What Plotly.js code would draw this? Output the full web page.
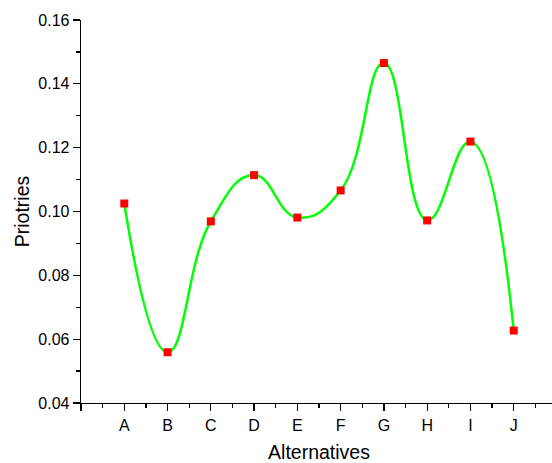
<!DOCTYPE html>
<html>
<head>
<meta charset="utf-8">
<script src="https://cdn.plot.ly/plotly-3.0.1.min.js"></script>
<style>html,body{margin:0;padding:0;overflow:hidden;background:#fff;}</style>
</head>
<body>
<div id="chart" style="width:560px;height:463px;"></div>
<script>
const categories = ['A','B','C','D','E','F','G','H','I','J'];
const priorities = [0.1025, 0.0559, 0.0969, 0.1114, 0.0981, 0.1066, 0.1465, 0.0972, 0.1219, 0.0627];

const xIdx = categories.map((_, i) => i);
const font = {family: 'Liberation Sans, Arial, sans-serif', color: '#000'};

const traces = [
  {x: xIdx, y: priorities, type: 'scatter', mode: 'lines',
   line: {color: '#00ff00', width: 2.5, shape: 'spline', smoothing: 1.3},
   hoverinfo: 'skip', showlegend: false},
  {x: xIdx, y: priorities, type: 'scatter', mode: 'markers',
   marker: {color: '#ff0000', symbol: 'square', size: 8},
   showlegend: false}
];

const layout = {
  width: 560, height: 463,
  margin: {l: 81, r: 3, t: 20, b: 60},
  paper_bgcolor: '#fff', plot_bgcolor: '#fff',
  font: Object.assign({size: 16}, font),
  xaxis: {
    range: [-1, 10],
    tickmode: 'array',
    tickvals: [-1].concat(xIdx),
    ticktext: [''].concat(categories),
    ticks: 'outside', ticklen: 7, tickwidth: 1.3, tickcolor: '#000',
    minor: {tickmode: 'linear', tick0: -0.5, dtick: 1, ticks: 'outside', ticklen: 4, tickwidth: 1.3, tickcolor: '#000', showgrid: false},
    showline: true, linecolor: '#000', linewidth: 1.3,
    showgrid: false, zeroline: false,
    tickfont: Object.assign({size: 16}, font),
    title: {text: 'Alternatives', font: Object.assign({size: 19.5}, font), standoff: 13}
  },
  yaxis: {
    range: [0.04, 0.16],
    tickmode: 'linear', tick0: 0.04, dtick: 0.02,
    tickformat: '.2f',
    ticks: 'outside', ticklen: 7, tickwidth: 1.3, tickcolor: '#000',
    minor: {tickmode: 'linear', tick0: 0.04, dtick: 0.01, ticks: 'outside', ticklen: 4, tickwidth: 1.3, tickcolor: '#000', showgrid: false},
    showline: true, linecolor: '#000', linewidth: 1.3,
    showgrid: false, zeroline: false,
    tickfont: Object.assign({size: 16}, font),
    title: {text: 'Priotries', font: Object.assign({size: 19.5}, font), standoff: 3}
  }
};

Plotly.newPlot('chart', traces, layout, {displayModeBar: false, staticPlot: true});
</script>
</body>
</html>
